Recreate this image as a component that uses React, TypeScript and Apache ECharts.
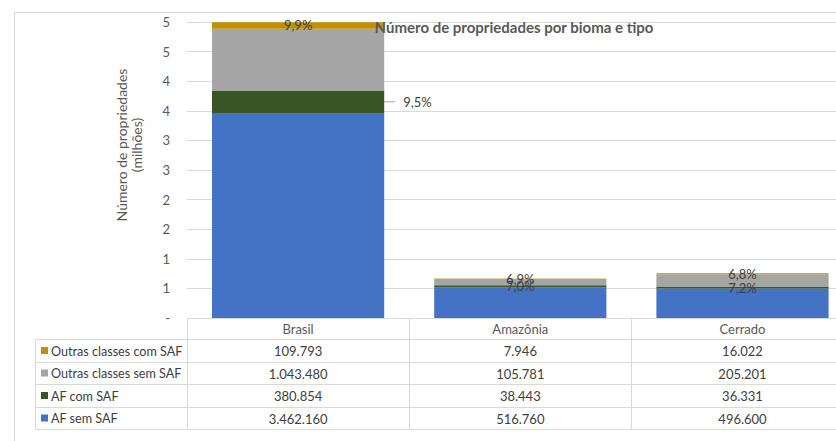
import React, { useEffect, useRef } from "react";
import * as echarts from "echarts";

const categories = ["Brasil", "Amazônia", "Cerrado"];
const seriesNames = ["AF sem SAF", "AF com SAF", "Outras classes sem SAF", "Outras classes com SAF"];
const afSemSaf = [3462160, 516760, 496600];
const afComSaf = [380854, 38443, 36331];
const outrasSemSaf = [1043480, 105781, 205201];
const outrasComSaf = [109793, 7946, 16022];
const pctUpper = ["9,9%", "6,9%", "6,8%"];
const pctLower = ["9,5%", "7,0%", "7,2%"];
const colors = ["#4472C4", "#375623", "#A5A5A5", "#BF9000"];

const FONT = "Lato, 'Open Sans', sans-serif";
const fmtThousands = (v: number) => String(v).replace(/\B(?=(\d{3})+(?!\d))/g, ".");

export default function App() {
  const ref = useRef<HTMLDivElement>(null);
  useEffect(() => {
    if (!ref.current) return;
    const chart = echarts.init(ref.current, undefined, { renderer: "svg" });
    const allSeries = [afSemSaf, afComSaf, outrasSemSaf, outrasComSaf];
    const gridLeft = 187;
    const gridTop = 22;
    const gridBottom = 318;
    const bandW = 222.2;
    const option: any = {
      animation: false,
      textStyle: { fontFamily: FONT },
      grid: { left: gridLeft, top: gridTop, width: bandW * 3, height: gridBottom - gridTop, containLabel: false },
      xAxis: {
        type: "category",
        data: categories,
        axisLine: { show: true, lineStyle: { color: "#d9d9d9" } },
        axisTick: { show: true, length: 112, lineStyle: { color: "#d9d9d9" } },
        axisLabel: { show: true, color: "#595959", fontSize: 13, margin: 4, fontFamily: FONT },
        splitLine: { show: false },
      },
      yAxis: {
        type: "value",
        min: 0,
        max: 5,
        interval: 0.5,
        axisLine: { show: false },
        axisTick: { show: false },
        axisLabel: {
          color: "#595959",
          fontSize: 13,
          margin: 17,
          fontFamily: FONT,
          formatter: (v: number) => (v === 0 ? "-" : String(Math.round(v))),
        },
        splitLine: { lineStyle: { color: "#d9d9d9" } },
      },
      series: allSeries.map((arr, si) => ({
        name: seriesNames[si],
        type: "bar",
        stack: "total",
        barCategoryGap: "22.5%",
        itemStyle: { color: colors[si] },
        data: arr.map((v, ci) => {
          const item: any = { value: v / 1e6 };
          const lbl = { color: "#404040", fontSize: 13, fontFamily: FONT };
          if (si === 3) {
            item.label = { show: true, position: "inside", formatter: pctUpper[ci], ...lbl };
          }
          if (si === 1) {
            item.label =
              ci === 0
                ? { show: true, position: "right", distance: 19, formatter: pctLower[ci], ...lbl }
                : { show: true, position: "inside", formatter: pctLower[ci], ...lbl };
          }
          return item;
        }),
      })),
    };
    chart.setOption(option);

    const centers = categories.map((c) => chart.convertToPixel({ xAxisIndex: 0 }, c) as number);
    const rowYs = [339, 362, 384, 407, 429];
    const rowOrder = [3, 2, 1, 0];
    const tableLeft = 35;
    const tableRight = gridLeft + bandW * 3;
    const graphics: any[] = [];
    graphics.push({ type: "rect", shape: { x: 14.5, y: 12.5, width: 900, height: 500 }, style: { fill: "none", stroke: "#d9d9d9", lineWidth: 1 }, silent: true, z: -10 });
    graphics.push({
      type: "text",
      x: 514,
      y: 27,
      style: { text: "Número de propriedades por bioma e tipo", fill: "#595959", font: `bold 15px ${FONT}`, align: "center", verticalAlign: "middle" },
      z: 10,
    });
    graphics.push({
      type: "text",
      x: 129,
      y: 145,
      rotation: Math.PI / 2,
      style: {
        text: "Número de propriedades\n(milhões)",
        fill: "#595959",
        font: `14px ${FONT}`,
        lineHeight: 15,
        align: "center",
        verticalAlign: "middle",
      },
    });
    rowYs.forEach((y) => {
      graphics.push({ type: "line", shape: { x1: tableLeft, y1: y + 0.5, x2: tableRight, y2: y + 0.5 }, style: { stroke: "#d9d9d9", lineWidth: 1 }, silent: true });
    });
    graphics.push({ type: "line", shape: { x1: tableLeft + 0.5, y1: rowYs[0], x2: tableLeft + 0.5, y2: rowYs[4] }, style: { stroke: "#d9d9d9", lineWidth: 1 }, silent: true });
    rowOrder.forEach((si, ri) => {
      const yc = (rowYs[ri] + rowYs[ri + 1]) / 2 + 0.5;
      graphics.push({ type: "rect", shape: { x: 41, y: yc - 4, width: 7, height: 7 }, style: { fill: colors[si] } });
      graphics.push({ type: "text", x: 51, y: yc, style: { text: seriesNames[si], fill: "#404040", font: `12.6px ${FONT}`, align: "left", verticalAlign: "middle" } });
      allSeries[si].forEach((v, ci) => {
        graphics.push({ type: "text", x: centers[ci], y: yc, style: { text: fmtThousands(v), fill: "#404040", font: `13px ${FONT}`, align: "center", verticalAlign: "middle" } });
      });
    });
    const yMid = chart.convertToPixel({ yAxisIndex: 0 }, (afSemSaf[0] + afComSaf[0] / 2) / 1e6) as number;
    const barRight = centers[0] + (bandW * 0.775) / 2;
    graphics.push({ type: "line", shape: { x1: barRight, y1: yMid, x2: barRight + 11, y2: yMid }, style: { stroke: "#a6a6a6", lineWidth: 1 } });
    chart.setOption({ graphic: graphics });

    return () => chart.dispose();
  }, []);
  return (
    <div style={{ width: 836, height: 441, position: "absolute", left: 0, top: 0, overflow: "hidden" }}>
      <div ref={ref} style={{ width: 880, height: 441 }} />
    </div>
  );
}
